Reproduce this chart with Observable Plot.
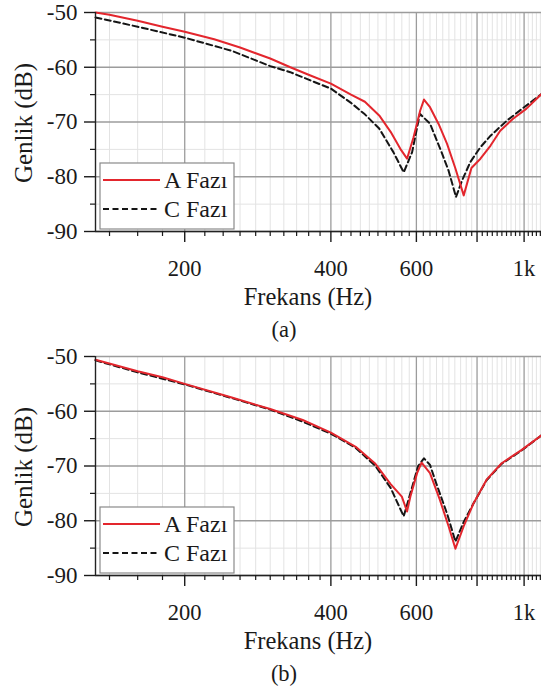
<!DOCTYPE html>
<html>
<head>
<meta charset="utf-8">
<script src="https://cdn.jsdelivr.net/npm/d3@7"></script>
<script src="https://cdn.jsdelivr.net/npm/@observablehq/plot@0.6"></script>
<style>
  body { margin: 0; background: #fff; }
  #chart { width: 541px; }
  #chart svg { display: block; overflow: visible; }
</style>
</head>
<body>
<div id="chart"></div>
<script>
// Axis extents and ticks
const freqDomain = [131, 1086];            // Hz, log scale
const dbDomain = [-90, -50];               // dB
const majorFreqTicks = [200, 400, 600, 800, 1000];
const minorFreqTicks = d3.range(140, 1090, 20).filter(f => !majorFreqTicks.includes(f));
const majorDbTicks = [-50, -60, -70, -80, -90];
const minorDbTicks = [-55, -65, -75, -85];
const seriesNames = ["A Fazı", "C Fazı"];
const panelTags = ["(a)", "(b)"];

// Panel (a): A phase
const freqA1 = [131, 140, 160, 180, 200, 230, 260, 300, 330, 363, 400, 440, 470, 503, 531, 556, 574, 592, 611, 622, 640, 667, 694, 722, 751, 779, 813, 853, 893, 949, 1010, 1086];
const dbA1   = [-50.0, -50.4, -51.5, -52.6, -53.5, -54.9, -56.4, -58.4, -60.0, -61.5, -63.0, -65.0, -66.3, -68.8, -71.8, -74.9, -76.7, -72.8, -67.9, -65.9, -67.3, -70.4, -74.0, -78.5, -83.4, -78.4, -76.7, -74.3, -71.6, -69.4, -67.6, -64.9];
// Panel (a): C phase
const freqC1 = [131, 160, 200, 250, 300, 330, 363, 400, 440, 470, 503, 538, 565, 588, 610, 640, 655, 676, 699, 724, 745, 775, 813, 853, 923, 1000, 1086];
const dbC1   = [-50.9, -52.6, -54.6, -57.0, -59.8, -60.9, -62.4, -63.9, -66.5, -68.6, -71.2, -75.5, -79.2, -75.5, -68.5, -70.3, -72.5, -75.5, -78.9, -83.7, -80.7, -77.3, -74.6, -72.5, -69.7, -67.3, -64.9];

// Panel (b): A phase
const freqA2 = [131, 160, 180, 200, 250, 300, 350, 400, 450, 494, 531, 560, 574, 583, 602, 615, 640, 669, 699, 722, 751, 787, 837, 899, 987, 1086];
const dbA2   = [-50.6, -52.7, -53.8, -55.0, -57.5, -59.6, -61.6, -63.9, -66.5, -69.6, -73.3, -75.6, -78.3, -75.6, -71.3, -69.4, -71.3, -75.9, -81.0, -85.1, -81.0, -76.8, -72.5, -69.5, -67.1, -64.4];
// Panel (b): C phase
const freqC2 = [131, 160, 200, 250, 300, 350, 400, 450, 494, 531, 565, 583, 605, 622, 640, 660, 694, 722, 751, 787, 837, 899, 987, 1086];
const dbC2   = [-50.7, -52.9, -55.1, -57.6, -59.7, -61.9, -64.1, -66.7, -70.0, -74.0, -79.2, -75.0, -70.0, -68.6, -69.8, -73.3, -78.7, -83.8, -80.2, -76.8, -72.6, -69.6, -67.2, -64.4];

const RED = "#e3262d";
const BLACK = "#151515";
const INK = "#1a1a1a";
const FONT = "Liberation Serif, DejaVu Serif, Noto Serif, serif";

const zip = (fs, ds) => fs.map((f, i) => ({f, db: ds[i]}));
const fmtFreq = f => f >= 1000 ? `${f / 1000}k` : `${f}`;
const fmtDb = d => `${d}`;

function panel(a, c, tag) {
  const svg = Plot.plot({
    width: 541,
    height: 344,
    marginLeft: 95,
    marginRight: 0,
    marginTop: 12,
    marginBottom: 113,
    style: {fontFamily: FONT, fontSize: "22px", color: INK, background: "transparent"},
    x: {type: "log", domain: freqDomain, axis: null},
    y: {domain: dbDomain, axis: null},
    marks: [
      Plot.gridX(minorFreqTicks, {stroke: "#e3e3e3", strokeOpacity: 1}),
      Plot.gridY(minorDbTicks, {stroke: "#e3e3e3", strokeOpacity: 1}),
      Plot.gridX(majorFreqTicks, {stroke: "#9c9c9c", strokeOpacity: 1, strokeWidth: 1.3}),
      Plot.gridY(majorDbTicks, {stroke: "#9c9c9c", strokeOpacity: 1, strokeWidth: 1.3}),
      Plot.line(c, {x: "f", y: "db", stroke: BLACK, strokeWidth: 2, strokeDasharray: "6,3.5"}),
      Plot.line(a, {x: "f", y: "db", stroke: RED, strokeWidth: 2}),
      Plot.ruleX([freqDomain[0]], {stroke: "#222", strokeWidth: 1.4}),
      Plot.ruleY([dbDomain[0]], {stroke: "#222", strokeWidth: 1.4}),
      Plot.axisX(minorFreqTicks, {anchor: "bottom", tickSize: 5, tickFormat: () => "", label: null, strokeWidth: 1.2}),
      Plot.axisX(majorFreqTicks, {anchor: "bottom", tickSize: 11, tickPadding: 18, tickFormat: fmtFreq, label: null, fontSize: 22.5, strokeWidth: 1.4}),
      Plot.axisY(minorDbTicks, {anchor: "left", tickSize: 5, tickFormat: () => "", label: null, strokeWidth: 1.2}),
      Plot.axisY(majorDbTicks, {anchor: "left", tickSize: 11, tickPadding: 7, tickFormat: fmtDb, label: null, fontSize: 23, strokeWidth: 1.4})
    ]
  });

  const s = d3.select(svg);

  // axis titles and panel tag
  const t = s.append("g").attr("font-family", FONT).attr("fill", INK).attr("text-anchor", "middle");
  t.append("text")
    .attr("transform", "translate(23,123) rotate(-90)")
    .attr("dy", "0.35em").attr("font-size", 25)
    .text("Genlik (dB)");
  t.append("text")
    .attr("x", 308).attr("y", 305).attr("font-size", 24.5)
    .text("Frekans (Hz)");
  t.append("text")
    .attr("x", 284).attr("y", 337).attr("font-size", 22.5)
    .text(tag);

  // legend box
  const lg = s.append("g").attr("font-family", FONT).attr("font-size", 24)
    .attr("fill", INK).attr("text-anchor", "start");
  lg.append("rect").attr("x", 100).attr("y", 163).attr("width", 134).attr("height", 66)
    .attr("fill", "#fff").attr("stroke", "#8a8a8a").attr("stroke-width", 1.2);
  const styles = [{stroke: RED, dash: null}, {stroke: BLACK, dash: "6,3.5"}];
  seriesNames.forEach((name, i) => {
    const y = 180 + i * 29;
    lg.append("line").attr("x1", 103).attr("x2", 160).attr("y1", y).attr("y2", y)
      .attr("stroke", styles[i].stroke).attr("stroke-width", 2)
      .attr("stroke-dasharray", styles[i].dash);
    lg.append("text").attr("x", 164).attr("y", y + 8).text(name);
  });
  return svg;
}

const chart = document.getElementById("chart");
chart.appendChild(panel(zip(freqA1, dbA1), zip(freqC1, dbC1), panelTags[0]));
chart.appendChild(panel(zip(freqA2, dbA2), zip(freqC2, dbC2), panelTags[1]));
</script>
</body>
</html>
